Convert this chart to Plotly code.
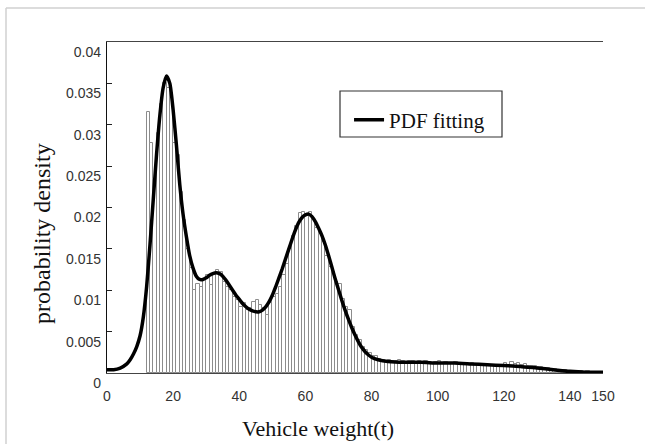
import plotly.graph_objects as go

# ---- data ----
bin_start = 12          # first histogram bin left edge (t)
bin_width = 1           # t
bar_density = [
    0.0316, 0.0278, 0.0235, 0.0290, 0.0325, 0.0350, 0.0345, 0.0338, 0.0278, 0.0263,  # 12-21
    0.0219, 0.0185, 0.0150, 0.0127, 0.0100, 0.0108, 0.0104, 0.0112, 0.0118, 0.0106,  # 22-31
    0.0120, 0.0124, 0.0122, 0.0110, 0.0104, 0.0100, 0.0092, 0.0088, 0.0080, 0.0084,  # 32-41
    0.0076, 0.0078, 0.0086, 0.0088, 0.0082, 0.0078, 0.0070, 0.0084, 0.0092, 0.0096,  # 42-51
    0.0104, 0.0118, 0.0132, 0.0150, 0.0165, 0.0178, 0.0193, 0.0194, 0.0190, 0.0195,  # 52-61
    0.0186, 0.0175, 0.0168, 0.0158, 0.0142, 0.0128, 0.0122, 0.0110, 0.0108, 0.0090,  # 62-71
    0.0080, 0.0076, 0.0056, 0.0046, 0.0040, 0.0032, 0.0028, 0.0024, 0.0020, 0.0020,  # 72-81
    0.0017, 0.0016, 0.0015, 0.0016, 0.0014, 0.0015, 0.0016, 0.0014, 0.0013, 0.0015,  # 82-91
    0.0014, 0.0013, 0.0014, 0.0012, 0.0014, 0.0013, 0.0012, 0.0013, 0.0014, 0.0012,  # 92-101
    0.0013, 0.0012, 0.0011, 0.0013, 0.0012, 0.0011, 0.0012, 0.0011, 0.0012, 0.0010,  # 102-111
    0.0011, 0.0010, 0.0011, 0.0009, 0.0010, 0.0009, 0.0010, 0.0009, 0.0012, 0.0010,  # 112-121
    0.0013, 0.0011, 0.0012, 0.0010, 0.0011, 0.0009, 0.0008, 0.0008, 0.0007, 0.0007,  # 122-131
    0.0006, 0.0006, 0.0005, 0.0005, 0.0004, 0.0004, 0.0004, 0.0003, 0.0002, 0.0002,  # 132-141
    0.0002, 0.0002, 0.0001, 0.0002, 0.0001, 0.0001, 0.0001, 0.0001,                  # 142-149
]

pdf_x = [0, 2, 4, 6, 7, 8, 9, 10, 11, 12, 13, 14, 15, 16, 17, 18, 19, 20, 21, 22,
         23, 24, 25, 26, 27, 28, 29, 30, 31, 32, 33, 34, 35, 36, 37, 38, 39, 40, 41, 42,
         43, 44, 45, 46, 47, 48, 49, 50, 51, 52, 53, 54, 55, 56, 57, 58, 59, 60, 61, 62,
         63, 64, 65, 66, 67, 68, 69, 70, 71, 72, 73, 74, 75, 76, 77, 78, 79, 80, 82, 85,
         90, 95, 100, 105, 110, 115, 120, 125, 130, 135, 140, 145, 150]
pdf_y = [0.0004, 0.0004, 0.0006, 0.0011, 0.0016, 0.0023, 0.0032, 0.0045, 0.0068, 0.0105,
         0.0155, 0.0210, 0.0265, 0.0312, 0.0345, 0.0359, 0.0350, 0.0318, 0.0275, 0.0228,
         0.0192, 0.0165, 0.0142, 0.0127, 0.0117, 0.0113, 0.0113, 0.0115, 0.0118, 0.0120,
         0.0121, 0.0120, 0.0117, 0.0112, 0.0106, 0.0100, 0.0094, 0.0089, 0.0084, 0.0080,
         0.0077, 0.0075, 0.0074, 0.0074, 0.0076, 0.0080, 0.0086, 0.0094, 0.0104, 0.0115,
         0.0126, 0.0138, 0.0150, 0.0162, 0.0173, 0.0182, 0.0188, 0.0191, 0.0192, 0.0189,
         0.0183, 0.0175, 0.0166, 0.0155, 0.0142, 0.0128, 0.0114, 0.0101, 0.0088, 0.0076,
         0.0065, 0.0055, 0.0046, 0.0038, 0.0031, 0.0026, 0.0022, 0.0019, 0.0016, 0.0014,
         0.0013, 0.0013, 0.0012, 0.0012, 0.0011, 0.0010, 0.0009, 0.0008, 0.0006, 0.0004,
         0.0002, 0.0001, 0.0001]

x_ticks = [0, 20, 40, 60, 80, 100, 120, 140, 150]
y_ticks = [0, 0.005, 0.01, 0.015, 0.02, 0.025, 0.03, 0.035, 0.04]
y_tick_text = ["0", "0.005", "0.01", "0.015", "0.02", "0.025", "0.03", "0.035", "0.04"]
right_ticks = [0.005, 0.01, 0.02, 0.025, 0.03, 0.035]

x_title = "Vehicle weight(t)"
y_title = "probability density"
legend_name = "PDF fitting"

# ---- figure ----
bin_centers = [bin_start + bin_width * (i + 0.5) for i in range(len(bar_density))]

SERIF = "Liberation Serif, Times New Roman, serif"
SANS = "Liberation Sans, Arial, sans-serif"

fig = go.Figure()
fig.add_trace(go.Bar(
    x=bin_centers, y=bar_density, width=bin_width,
    marker=dict(color="white", line=dict(color="#8c8c8c", width=1)),
    showlegend=False, hoverinfo="skip",
))
fig.add_trace(go.Scatter(
    x=pdf_x, y=pdf_y, mode="lines", name=legend_name,
    line=dict(color="black", width=3.5, shape="spline", smoothing=0.6),
))

fig.update_layout(
    width=645, height=444,
    margin=dict(l=107, r=42, t=42, b=71),
    paper_bgcolor="white", plot_bgcolor="white",
    bargap=0,
    showlegend=True,
    legend=dict(x=0.488, y=0.826, xanchor="left", yanchor="top",
                bgcolor="rgba(0,0,0,0)", borderwidth=0,
                font=dict(family=SERIF, size=21, color="#111")),
    xaxis=dict(range=[0, 150], tickvals=x_ticks, ticks="", showgrid=False,
               zeroline=False, showline=True, linecolor="#444", linewidth=1,
               mirror=True,
               tickfont=dict(family=SANS, size=14, color="#333"),
               ticklabelstandoff=10),
    yaxis=dict(range=[0, 0.04], tickvals=y_ticks, ticktext=y_tick_text,
               ticks="inside", ticklen=5, tickcolor="#222", showgrid=False,
               zeroline=False, showline=True, linecolor="#111", linewidth=1.3,
               tickfont=dict(family=SANS, size=14, color="#333"),
               ticklabelshift=10, ticklabelstandoff=2),
    yaxis2=dict(overlaying="y", side="right", anchor="x", range=[0, 0.04],
                tickvals=right_ticks, ticks="inside", ticklen=4,
                tickcolor="#999", showticklabels=False, showgrid=False,
                zeroline=False, showline=True, linecolor="#c8c8c8", linewidth=1),
)

# axis titles placed as in the reference
fig.add_annotation(text=x_title, xref="paper", yref="paper",
                   x=(318 - 107) / 496, y=(373 - 428) / 331,
                   showarrow=False, xanchor="center", yanchor="middle",
                   font=dict(family=SERIF, size=22, color="#111"))
fig.add_annotation(text=y_title, xref="paper", yref="paper",
                   x=(42 - 107) / 496, y=(373 - 234) / 331, textangle=-90,
                   showarrow=False, xanchor="center", yanchor="middle",
                   font=dict(family=SERIF, size=24, color="#111"))

# legend box
fig.add_shape(type="rect", xref="paper", yref="paper",
              x0=(340 - 107) / 496, x1=(502 - 107) / 496,
              y0=(373 - 137) / 331, y1=(373 - 91) / 331,
              line=dict(color="#333", width=1.2), fillcolor="rgba(0,0,0,0)")

# light outer frame of the scanned figure
fig.add_shape(type="line", xref="paper", yref="paper",
              x0=(6 - 107) / 496, x1=(6 - 107) / 496,
              y0=(373 - 444) / 331, y1=(373 - 8) / 331,
              line=dict(color="#d0d0d0", width=1.5))
fig.add_shape(type="line", xref="paper", yref="paper",
              x0=(6 - 107) / 496, x1=(645 - 107) / 496,
              y0=(373 - 8) / 331, y1=(373 - 8) / 331,
              line=dict(color="#d0d0d0", width=1.5))

fig.write_html("out.html")
